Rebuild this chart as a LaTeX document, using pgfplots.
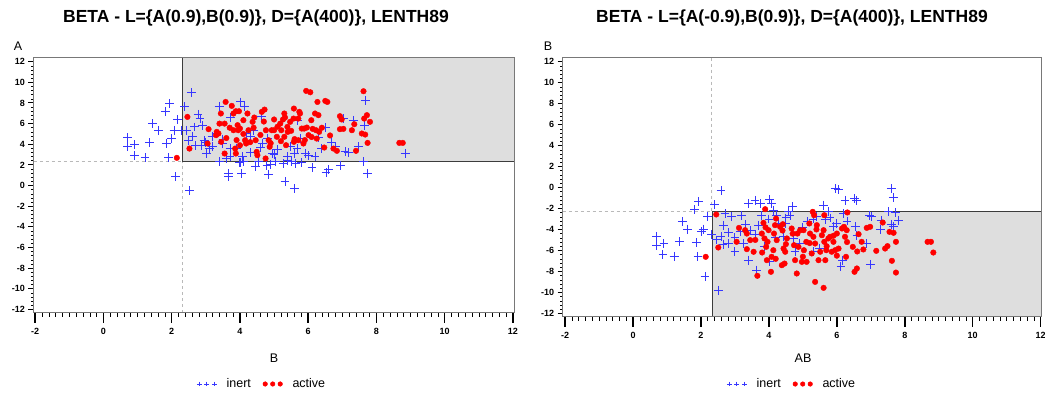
\documentclass[border=0pt]{standalone}
\usepackage{fontspec}
\setmainfont{Liberation Sans}
\usepackage{pgfplots}
\pgfplotsset{compat=1.18}
\usepackage{pgfplotstable}

\definecolor{inertblue}{RGB}{55,55,255}
\definecolor{activered}{RGB}{255,0,0}
\definecolor{shade}{RGB}{222,222,222}
\definecolor{framegray}{RGB}{120,120,120}
\definecolor{refgray}{RGB}{185,185,185}
\definecolor{edgegray}{RGB}{60,60,60}

% ---------- left panel: B (x) vs A (y) ----------
\pgfplotstableread{
x y
0.71 4.65
0.71 3.75
0.92 3.97
0.90 2.94
1.22 2.71
1.34 4.13
1.44 6.00
1.61 5.36
1.81 7.20
1.93 7.95
1.84 4.07
1.91 2.71
2.00 4.55
2.07 5.36
2.12 0.84
2.18 6.40
2.28 5.36
2.38 7.62
2.57 8.98
2.52 -0.52
2.44 5.36
2.62 4.72
2.67 5.68
2.77 6.91
2.83 6.49
2.87 3.91
2.95 4.39
3.01 3.10
3.18 4.78
3.20 3.75
3.39 7.69
3.40 2.29
3.48 4.07
3.66 1.16
3.67 0.84
3.71 2.78
3.73 6.59
3.71 3.58
3.99 2.20
4.01 8.10
4.13 7.62
4.05 1.16
4.08 2.78
4.20 5.04
4.40 5.36
4.45 1.81
4.54 2.29
4.64 6.65
4.67 4.07
4.79 1.97
4.84 1.10
4.96 3.10
5.03 2.36
5.26 2.13
5.32 0.36
5.39 2.78
5.47 3.75
5.60 -0.29
5.62 2.13
5.67 3.58
5.69 6.33
5.76 4.55
5.91 3.10
6.11 1.74
6.20 2.78
6.30 4.65
6.50 5.59
6.52 1.26
6.59 1.55
6.69 4.17
6.95 1.97
7.03 6.49
7.08 3.26
7.18 3.17
7.32 6.33
7.47 3.75
7.62 2.29
7.65 5.85
7.67 8.27
7.74 1.16
8.84 3.10
3.50 4.50
3.30 5.00
4.30 4.80
4.60 3.70
5.00 3.00
5.40 2.40
5.80 2.20
4.10 2.30
3.90 3.60
3.00 4.20
2.90 5.80
4.80 4.60
5.10 3.50
5.60 3.10
6.00 2.90
6.40 3.60
6.80 3.80
4.00 2.20
4.90 2.00
5.50 2.30
2.50 4.40
2.70 3.90
3.10 3.60
3.60 2.60
4.30 3.20
}\LeftInert

\pgfplotstableread{
x y
2.15 2.68
2.46 6.65
2.52 3.58
3.08 5.46
3.05 4.07
3.32 5.20
3.37 5.04
3.30 4.88
3.58 8.10
3.44 6.98
3.45 4.23
3.55 6.00
3.55 3.10
3.76 7.72
3.81 6.98
3.81 5.36
3.88 7.20
3.97 7.20
3.86 3.58
3.88 3.10
3.93 5.85
3.95 5.36
4.00 5.52
4.10 6.33
4.22 6.98
4.15 4.39
4.18 4.07
4.25 5.36
4.37 6.17
4.42 6.59
4.46 4.39
4.49 3.26
4.51 2.94
4.64 7.14
4.72 7.36
4.75 2.62
4.76 5.36
4.84 4.39
4.87 3.75
4.93 5.36
5.00 5.36
5.08 4.72
5.18 6.00
5.21 5.36
5.26 6.40
5.30 6.98
5.32 6.59
5.30 4.72
5.35 3.91
5.39 5.68
5.47 6.17
5.58 7.46
5.57 6.49
5.58 4.23
5.71 6.49
5.74 7.14
5.76 6.98
5.71 4.39
5.81 5.52
5.88 5.52
5.86 4.07
5.94 9.17
6.06 9.04
5.96 5.62
6.01 4.88
6.09 6.33
6.13 5.49
6.20 6.98
6.23 5.36
6.25 4.55
6.27 8.10
6.30 6.82
6.32 5.20
6.50 8.20
6.56 8.10
6.64 4.85
6.47 3.68
6.74 3.58
6.84 3.36
6.93 6.72
6.98 6.40
6.93 5.46
7.03 5.49
7.28 5.36
7.35 5.94
7.40 3.36
7.57 5.04
7.62 9.14
7.67 4.94
7.64 6.49
7.72 6.82
7.74 4.13
7.81 6.17
8.67 4.13
8.77 4.13
3.60 4.60
3.90 4.40
4.10 5.00
4.30 4.20
4.40 5.60
4.60 4.90
4.90 4.10
5.10 5.70
5.20 4.30
5.40 5.20
5.60 4.50
5.90 4.40
6.10 4.70
6.40 5.60
3.70 5.60
4.70 6.20
5.00 6.40
5.50 5.30
3.40 6.00
4.00 3.90
}\LeftActive

% ---------- right panel: AB (x) vs B (y) ----------
\pgfplotstableread{
x y
0.70 -4.64
0.70 -5.50
0.91 -5.34
0.88 -6.39
1.21 -6.55
1.36 -5.18
1.45 -3.27
1.61 -3.97
1.81 -2.10
1.93 -1.37
1.86 -5.28
1.91 -6.55
2.02 -4.23
2.07 -3.97
2.12 -8.46
2.19 -2.80
2.32 -4.45
2.40 -1.62
2.59 -0.32
2.51 -9.79
2.59 -4.70
2.66 -3.59
2.71 -2.48
2.81 -5.34
2.91 -2.80
3.00 -6.13
3.15 -4.23
3.25 -5.34
3.40 -1.53
3.40 -6.93
3.59 -1.21
3.64 -7.88
3.69 -3.59
3.76 -1.53
3.79 -2.64
3.86 -5.66
4.02 -1.14
4.02 -7.09
4.08 -1.53
4.13 -2.16
4.23 -2.64
4.28 -3.43
4.43 -4.70
4.48 -3.43
4.58 -2.32
4.62 -2.64
4.70 -1.84
4.72 -4.86
4.77 -6.13
5.13 -3.27
5.31 -6.13
5.41 -2.80
5.61 -1.68
5.66 -3.05
5.75 -2.32
5.90 -3.75
5.95 -0.10
6.05 -0.19
6.12 -7.57
6.17 -6.93
6.19 -2.48
6.24 -1.21
6.52 -1.05
6.57 -1.21
6.54 -3.75
6.59 -4.55
6.88 -5.34
6.96 -2.64
6.98 -7.31
7.03 -2.80
7.28 -4.01
7.30 -3.12
7.60 -0.13
7.66 -0.95
7.60 -3.50
7.66 -3.75
7.72 -2.42
7.81 -3.12
7.52 -2.32
3.00 -4.80
3.30 -3.50
3.60 -4.50
4.00 -3.00
4.50 -2.90
5.00 -3.80
5.30 -3.00
5.80 -2.90
6.30 -3.20
4.20 -4.80
4.90 -5.30
5.50 -5.80
6.00 -3.40
3.20 -2.70
2.80 -4.30
2.45 -5.00
2.65 -5.40
3.45 -4.10
}\RightInert

\pgfplotstableread{
x y
2.45 -2.57
2.51 -5.72
2.14 -6.61
3.12 -3.85
3.05 -5.18
3.30 -4.07
3.35 -4.39
3.45 -5.02
3.35 -5.88
3.55 -6.13
3.66 -8.42
3.79 -4.39
3.84 -3.37
3.89 -2.07
3.87 -4.86
3.92 -5.66
3.94 -6.93
3.99 -4.07
3.96 -5.18
4.06 -8.04
4.08 -6.61
4.13 -5.98
4.15 -4.39
4.18 -3.59
4.21 -2.96
4.23 -5.02
4.33 -3.75
4.41 -3.50
4.46 -7.25
4.43 -5.82
4.48 -6.13
4.53 -4.86
4.38 -7.41
4.67 -3.91
4.74 -5.50
4.77 -6.93
4.82 -8.20
4.84 -4.39
4.87 -5.66
4.92 -4.07
4.97 -7.09
5.02 -4.07
5.03 -5.98
5.10 -5.18
5.11 -7.09
5.19 -3.43
5.21 -4.39
5.26 -6.29
5.29 -2.32
5.31 -4.70
5.33 -2.64
5.36 -5.34
5.36 -9.00
5.41 -3.59
5.46 -6.93
5.51 -6.13
5.56 -4.55
5.61 -4.07
5.61 -9.57
5.63 -5.18
5.63 -2.64
5.66 -6.93
5.69 -5.98
5.75 -4.86
5.80 -4.70
5.85 -6.13
5.90 -5.18
5.95 -5.98
6.00 -4.39
6.05 -5.82
6.15 -3.91
6.21 -3.75
6.24 -4.70
6.27 -6.61
6.29 -4.07
6.31 -2.38
6.47 -5.66
6.52 -8.04
6.59 -7.72
6.64 -4.45
6.73 -5.18
6.78 -5.91
6.88 -3.85
6.98 -3.75
7.16 -6.04
7.35 -3.34
7.42 -5.82
7.49 -5.59
7.55 -4.23
7.62 -6.99
7.67 -4.32
7.74 -5.18
7.74 -8.11
8.67 -5.18
8.77 -5.18
8.84 -6.20
3.60 -5.00
3.80 -6.20
4.20 -6.80
4.50 -5.40
4.70 -4.40
5.00 -6.60
5.20 -5.30
5.40 -4.00
5.70 -5.60
6.00 -6.50
6.30 -5.20
4.40 -4.10
3.90 -3.80
5.90 -4.60
6.60 -6.10
}\RightActive

\pgfplotsset{
  jmp/.style={
    scale only axis,
    axis line style={framegray, line width=0.8pt},
    tick align=outside,
    /pgf/number format/assume math mode=true,
    ticklabel style={font=\bfseries\fontsize{9}{10}\selectfont},
    clip=true,
  },
  jmpx/.style={
    jmp,
    xtick={-2,0,...,12}, minor x tick num=9,
    ytick=\empty, xtick pos=left,
    major tick length=10pt, minor tick length=4pt,
    major x tick style={black, line width=1.5pt},
    minor x tick style={black, line width=0.6pt},
    xticklabel style={yshift=-2pt},
  },
  jmpy/.style={
    jmp,
    ytick={-12,-10,...,12}, minor y tick num=4,
    xtick=\empty, ytick pos=left,
    major tick length=5pt, minor tick length=2.5pt,
    major y tick style={black, line width=1pt},
    minor y tick style={black, line width=0.5pt},
  },
  inertmark/.style={only marks, mark=+, mark size=4.4pt, color=inertblue, mark options={line width=0.9pt},
    legend image code/.code={\draw[##1, mark size=2.4pt, mark options={line width=0.6pt}] plot coordinates {(0pt,0pt) (7.5pt,0pt) (15pt,0pt)};}},
  activemark/.style={only marks, mark=*, mark size=2.8pt, color=activered, mark options={draw=activered, fill=activered},
    legend image code/.code={\draw[##1, mark size=2.3pt] plot coordinates {(0pt,0pt) (7.5pt,0pt) (15pt,0pt)};}},
  legstyle/.style={legend columns=2, draw=none, fill=none, font=\fontsize{12.5}{14}\selectfont,
    /tikz/every odd column/.append style={column sep=8pt},
    /tikz/every even column/.append style={column sep=10pt}, legend cell align=left, anchor=center},
}

\begin{document}
\begin{tikzpicture}
\useasboundingbox (0pt,0pt) rectangle (1045pt,395pt);

% ===== Left panel =====
\begin{axis}[jmpx, at={(33.5pt,82.3pt)}, anchor=south west, width=480.5pt, height=255pt,
  xmin=-2.05, xmax=12.03, ymin=-12.33, ymax=12.39,
  legend style={legstyle, at={(0.4755,-0.2796)}}]
\addplot[fill=shade, draw=none, forget plot] coordinates {(2.32,2.29) (12.03,2.29) (12.03,12.39) (2.32,12.39)} \closedcycle;
\addplot[refgray, dashed, line width=0.8pt, forget plot] coordinates {(-2.05,2.29) (2.30,2.29)};
\addplot[refgray, dashed, line width=0.8pt, forget plot] coordinates {(2.30,-12.33) (2.30,2.29)};
\addplot[edgegray, line width=0.9pt, forget plot] coordinates {(2.32,12.39) (2.32,2.29) (12.03,2.29)};
\addplot[inertmark] table[x=x, y=y] {\LeftInert};
\addplot[activemark] table[x=x, y=y] {\LeftActive};
\legend{inert, active}
\end{axis}
\begin{axis}[jmpy, at={(33.5pt,82.3pt)}, anchor=south west, width=480.5pt, height=255pt,
  xmin=-2.05, xmax=12.03, ymin=-12.33, ymax=12.39]
\end{axis}

% ===== Right panel =====
\begin{axis}[jmpx, at={(562.7pt,78.3pt)}, anchor=south west, width=479pt, height=259pt,
  xmin=-2.07, xmax=12.03, ymin=-12.32, ymax=12.38,
  legend style={legstyle, at={(0.4787,-0.26)}}]
\addplot[fill=shade, draw=none, forget plot] coordinates {(2.34,-12.32) (12.03,-12.32) (12.03,-2.30) (2.34,-2.30)} \closedcycle;
\addplot[refgray, dashed, line width=0.8pt, forget plot] coordinates {(-2.07,-2.30) (2.34,-2.30)};
\addplot[refgray, dashed, line width=0.8pt, forget plot] coordinates {(2.30,12.38) (2.30,-2.30)};
\addplot[edgegray, line width=0.9pt, forget plot] coordinates {(2.34,-12.32) (2.34,-2.30) (12.03,-2.30)};
\addplot[inertmark] table[x=x, y=y] {\RightInert};
\addplot[activemark] table[x=x, y=y] {\RightActive};
\legend{inert, active}
\end{axis}
\begin{axis}[jmpy, at={(562.7pt,78.3pt)}, anchor=south west, width=479pt, height=259pt,
  xmin=-2.07, xmax=12.03, ymin=-12.32, ymax=12.38]
\end{axis}

% ===== titles and axis labels =====
\node[font=\bfseries\fontsize{17.5}{20}\selectfont] at (256pt,377pt) {BETA - L=\{A(0.9),B(0.9)\}, D=\{A(400)\}, LENTH89};
\node[font=\bfseries\fontsize{17.5}{20}\selectfont] at (792pt,377pt) {BETA - L=\{A(-0.9),B(0.9)\}, D=\{A(400)\}, LENTH89};
\node[font=\fontsize{12.5}{14}\selectfont] at (18pt,349pt) {A};
\node[font=\fontsize{12.5}{14}\selectfont] at (548pt,349pt) {B};
\node[font=\fontsize{12.5}{14}\selectfont] at (274pt,37pt) {B};
\node[font=\fontsize{12.5}{14}\selectfont] at (803pt,37pt) {AB};
\end{tikzpicture}
\end{document}
